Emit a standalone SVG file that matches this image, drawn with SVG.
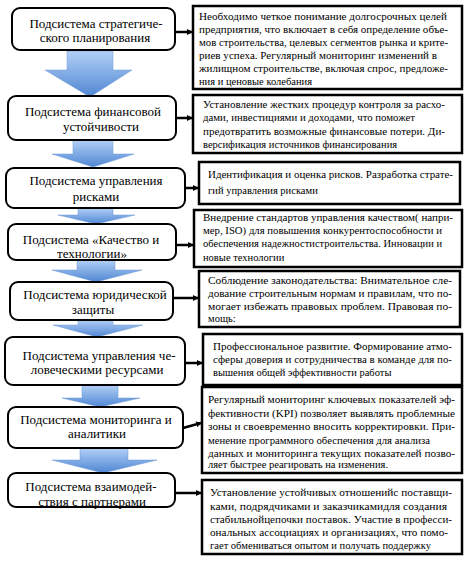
<svg xmlns="http://www.w3.org/2000/svg" width="466" height="562" viewBox="0 0 466 562">
<defs>
<linearGradient id="bg" x1="0" y1="0" x2="0" y2="1">
<stop offset="0" stop-color="#b3d0f6"/>
<stop offset="1" stop-color="#4f86d3"/>
</linearGradient>
<marker id="ah" markerWidth="6" markerHeight="6" refX="5" refY="3" orient="auto" markerUnits="userSpaceOnUse">
<path d="M0,0 L6,3 L0,6 z" fill="#000"/>
</marker>
<style>
.lb{fill:#fff;stroke:#000;stroke-width:2}
.rb{fill:#fff;stroke:#000;stroke-width:2.5}
.lt{font-family:'Liberation Serif',serif;font-size:13px;fill:#000;text-anchor:middle}
.rt{font-family:'Liberation Serif',serif;font-size:10.5px;fill:#000}
.ar{fill:url(#bg);stroke:#6d98d6;stroke-width:0.5}
.cn{stroke:#000;stroke-width:2.5;fill:none;marker-end:url(#ah)}
</style>
</defs>
<rect width="466" height="562" fill="#fff"/>

<g id="flow-arrows">
<path class="ar" d="M67,51 H113 V70 H132 L90,97 L45,70 H67 Z"/>
<path class="ar" d="M73,140 H113 V154 H134 L93,167 L52,154 H73 Z"/>
<path class="ar" d="M78,208 H113 V215 H135 L96,224 L58,215 H78 Z"/>
<path class="ar" d="M77,260 H115 V270 H142 L96,282 L52,270 H77 Z"/>
<path class="ar" d="M78,320 H113 V325 H143 L97,337 L53,325 H78 Z"/>
<path class="ar" d="M82,385 H118 V398 H140 L100,407 L62,398 H82 Z"/>
<path class="ar" d="M80,448 H128 V460 H157 L103,473 L52,460 H80 Z"/>
</g>

<g id="connectors">
<line class="cn" x1="175" y1="32" x2="192" y2="32"/>
<line class="cn" x1="176" y1="118" x2="192" y2="118"/>
<line class="cn" x1="185" y1="188" x2="198" y2="188"/>
<line class="cn" x1="176" y1="245" x2="193" y2="245"/>
<line class="cn" x1="173" y1="298" x2="198" y2="298"/>
<line class="cn" x1="185" y1="363" x2="202" y2="363"/>
<line class="cn" x1="183" y1="428" x2="201" y2="423"/>
<line class="cn" x1="175" y1="493" x2="201" y2="493"/>
</g>

<g id="n1">
<rect class="lb" x="12" y="8" width="163" height="42" rx="8"/>
<text class="lt" x="96" y="28">Подсистема стратегиче-</text>
<text class="lt" x="95" y="42">ского планирования</text>
</g>
<g id="d1">
<rect class="rb" x="193" y="6" width="269" height="83"/>
<text class="rt" x="199" y="20" textLength="248" lengthAdjust="spacingAndGlyphs">Необходимо четкое понимание долгосрочных целей</text>
<text class="rt" x="199" y="33" textLength="249" lengthAdjust="spacingAndGlyphs">предприятия, что включает в себя определение объе-</text>
<text class="rt" x="199" y="46" textLength="249" lengthAdjust="spacingAndGlyphs">мов строительства, целевых сегментов рынка и крите-</text>
<text class="rt" x="199" y="59" textLength="238" lengthAdjust="spacingAndGlyphs">риев успеха. Регулярный мониторинг изменений в</text>
<text class="rt" x="199" y="72" textLength="249" lengthAdjust="spacingAndGlyphs">жилищном строительстве, включая спрос, предложе-</text>
<text class="rt" x="199" y="85">ния и ценовые колебания</text>
</g>

<g id="n2">
<rect class="lb" x="8" y="96" width="168" height="44" rx="8"/>
<text class="lt" x="93" y="116">Подсистема финансовой</text>
<text class="lt" x="101" y="131">устойчивости</text>
</g>
<g id="d2">
<rect class="rb" x="193" y="95" width="269" height="58"/>
<text class="rt" x="203" y="108" textLength="242" lengthAdjust="spacingAndGlyphs">Установление жестких процедур контроля за расхо-</text>
<text class="rt" x="203" y="121" textLength="212" lengthAdjust="spacingAndGlyphs">дами, инвестициями и доходами, что поможет</text>
<text class="rt" x="203" y="135" textLength="242" lengthAdjust="spacingAndGlyphs">предотвратить возможные финансовые потери. Ди-</text>
<text class="rt" x="203" y="148">версификация источников финансирования</text>
</g>

<g id="n3">
<rect class="lb" x="6" y="168" width="179" height="40" rx="8"/>
<text class="lt" x="96" y="185">Подсистема управления</text>
<text class="lt" x="96" y="201">рисками</text>
</g>
<g id="d3">
<rect class="rb" x="199" y="162" width="261" height="42"/>
<text class="rt" x="208" y="178" textLength="245" lengthAdjust="spacingAndGlyphs">Идентификация и оценка рисков. Разработка страте-</text>
<text class="rt" x="208" y="194">гий управления рисками</text>
</g>

<g id="n4">
<rect class="lb" x="8" y="224" width="168" height="36" rx="8"/>
<text class="lt" x="91" y="244">Подсистема «Качество и</text>
<text class="lt" x="92" y="258">технологии»</text>
</g>
<g id="d4">
<rect class="rb" x="194" y="210" width="268" height="57"/>
<text class="rt" x="203" y="221" textLength="250" lengthAdjust="spacingAndGlyphs">Внедрение стандартов управления качеством( напри-</text>
<text class="rt" x="203" y="234" textLength="239" lengthAdjust="spacingAndGlyphs">мер, ISO) для повышения конкурентоспособности и</text>
<text class="rt" x="203" y="247" textLength="239" lengthAdjust="spacingAndGlyphs">обеспечения надежностистроительства. Инновации и</text>
<text class="rt" x="203" y="261">новые технологии</text>
</g>

<g id="n5">
<rect class="lb" x="10" y="282" width="163" height="38" rx="8"/>
<text class="lt" x="95" y="299">Подсистема юридической</text>
<text class="lt" x="93" y="314">защиты</text>
</g>
<g id="d5">
<rect class="rb" x="199" y="271" width="261" height="56"/>
<text class="rt" x="208" y="284" textLength="244" lengthAdjust="spacingAndGlyphs">Соблюдение законодательства: Внимательное сле-</text>
<text class="rt" x="208" y="297" textLength="244" lengthAdjust="spacingAndGlyphs">дование строительным нормам и правилам, что по-</text>
<text class="rt" x="208" y="310" textLength="244" lengthAdjust="spacingAndGlyphs">могает избежать правовых проблем. Правовая по-</text>
<text class="rt" x="208" y="322">мощь:</text>
</g>

<g id="n6">
<rect class="lb" x="5" y="337" width="180" height="48" rx="8"/>
<text class="lt" x="99" y="360">Подсистема управления че-</text>
<text class="lt" x="97" y="374">ловеческими ресурсами</text>
</g>
<g id="d6">
<rect class="rb" x="203" y="334" width="259" height="51"/>
<text class="rt" x="213" y="350" textLength="239" lengthAdjust="spacingAndGlyphs">Профессиональное развитие. Формирование атмо-</text>
<text class="rt" x="213" y="363" textLength="239" lengthAdjust="spacingAndGlyphs">сферы доверия и сотрудничества в команде для по-</text>
<text class="rt" x="213" y="376">вышения общей эффективности работы</text>
</g>

<g id="n7">
<rect class="lb" x="8" y="407" width="175" height="41" rx="8"/>
<text class="lt" x="96" y="424">Подсистема мониторинга и</text>
<text class="lt" x="97" y="438">аналитики</text>
</g>
<g id="d7">
<rect class="rb" x="202" y="387" width="260" height="86"/>
<text class="rt" x="208" y="403" textLength="247" lengthAdjust="spacingAndGlyphs">Регулярный мониторинг ключевых показателей эф-</text>
<text class="rt" x="208" y="417" textLength="247" lengthAdjust="spacingAndGlyphs">фективности (KPI) позволяет выявлять проблемные</text>
<text class="rt" x="208" y="430" textLength="247" lengthAdjust="spacingAndGlyphs">зоны и своевременно вносить корректировки. При-</text>
<text class="rt" x="208" y="444" textLength="222" lengthAdjust="spacingAndGlyphs">менение программного обеспечения для анализа</text>
<text class="rt" x="208" y="457" textLength="247" lengthAdjust="spacingAndGlyphs">данных и мониторинга текущих показателей позво-</text>
<text class="rt" x="208" y="468">ляет быстрее реагировать на изменения.</text>
</g>

<g id="n8">
<rect class="lb" x="8" y="473" width="167" height="34" rx="8"/>
<text class="lt" x="91" y="491">Подсистема взаимодей-</text>
<text class="lt" x="92" y="506">ствия с партнерами</text>
</g>
<g id="d8">
<rect class="rb" x="202" y="480" width="260" height="74"/>
<text class="rt" x="210" y="496" textLength="242" lengthAdjust="spacingAndGlyphs">Установление устойчивых отношенийс поставщи-</text>
<text class="rt" x="210" y="510" textLength="237" lengthAdjust="spacingAndGlyphs">ками, подрядчиками и заказчикамидля создания</text>
<text class="rt" x="210" y="523" textLength="242" lengthAdjust="spacingAndGlyphs">стабильнойцепочки поставок. Участие в професси-</text>
<text class="rt" x="210" y="536" textLength="238" lengthAdjust="spacingAndGlyphs">ональных ассоциациях и организациях, что помо-</text>
<text class="rt" x="210" y="549">гает обмениваться опытом и получать поддержку</text>
</g>
</svg>
